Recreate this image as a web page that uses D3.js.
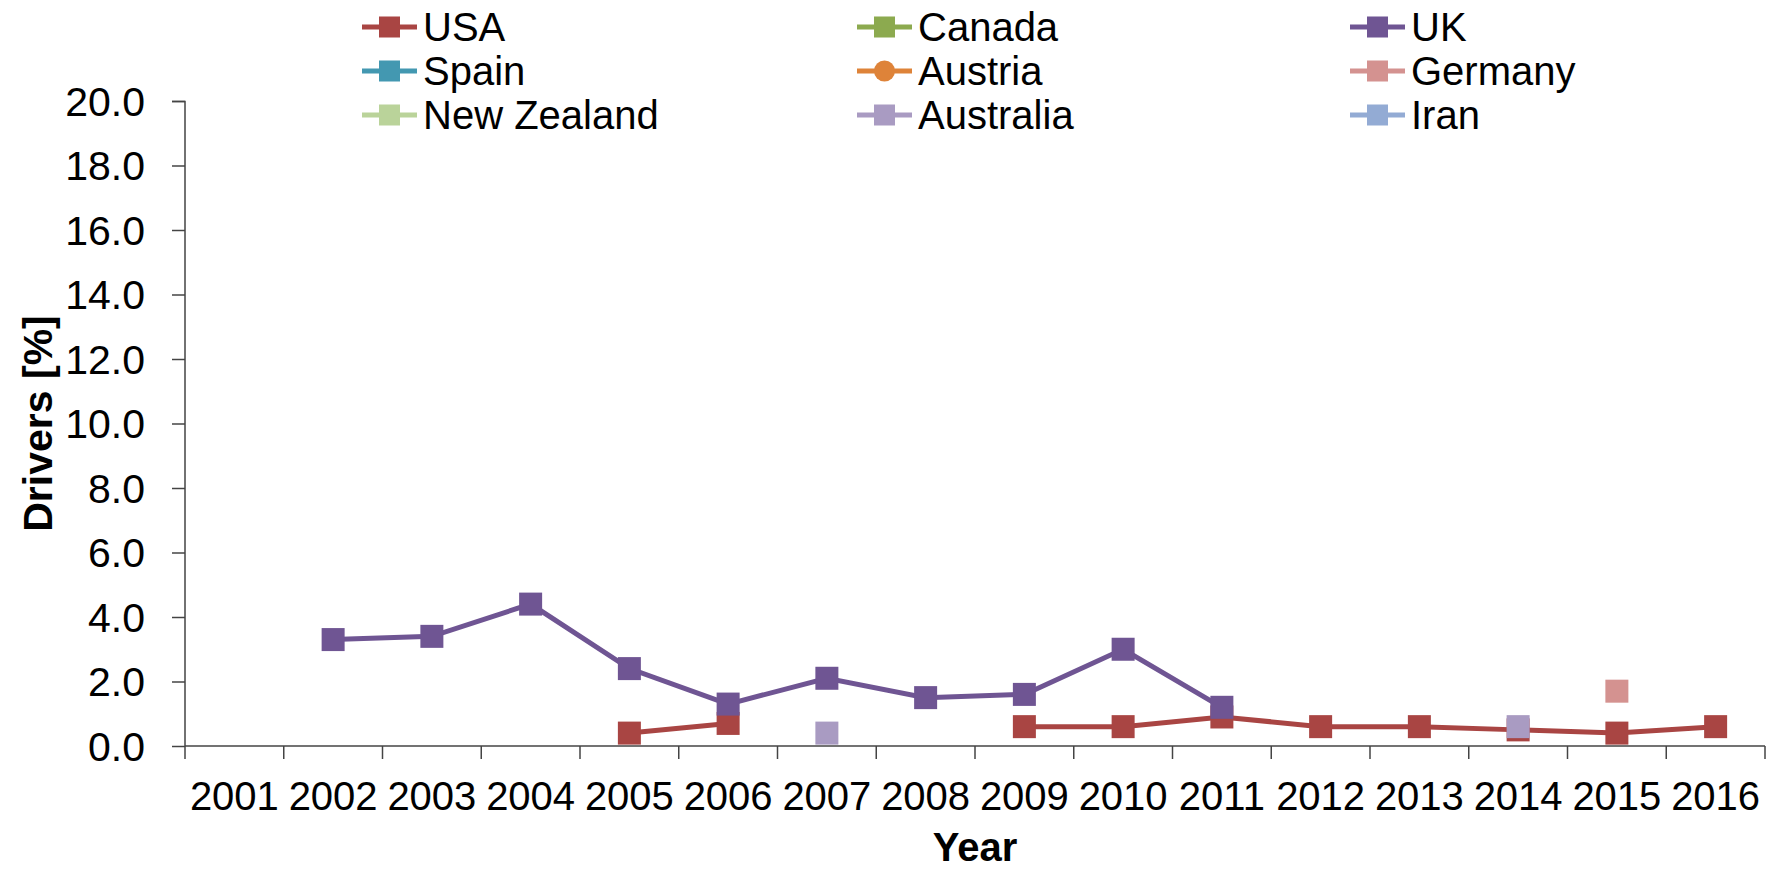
<!DOCTYPE html>
<html>
<head>
<meta charset="utf-8">
<script src="https://cdn.jsdelivr.net/npm/d3@7"></script>
<style>
  body { margin: 0; background: #fff; }
  text { font-family: "Liberation Sans", Arial, sans-serif; fill: #000; }
  .axis-title { font-weight: bold; }
</style>
</head>
<body>
<div id="chart"></div>
<script>
/*
* Drivers per year line chart
*/

let svgWidth = 1783;
let svgHeight = 871;

let margin = { top: 101, right: 18, bottom: 125, left: 185 };

// categories
let years = ['2001', '2002', '2003', '2004', '2005', '2006', '2007', '2008',
  '2009', '2010', '2011', '2012', '2013', '2014', '2015', '2016'];

// series values, one per year (null = no data)
let usa = [null, null, null, null, 0.4, 0.7, null, null, 0.6, 0.6, 0.9, 0.6, 0.6, 0.5, 0.4, 0.6];
let canada = [null, null, null, null, null, null, null, null, null, null, null, null, null, null, null, null];
let uk = [null, 3.3, 3.4, 4.4, 2.4, 1.3, 2.1, 1.5, 1.6, 3.0, 1.2, null, null, null, null, null];
let spain = [null, null, null, null, null, null, null, null, null, null, null, null, null, null, null, null];
let austria = [null, null, null, null, null, null, null, null, null, null, null, null, null, null, null, null];
let germany = [null, null, null, null, null, null, null, null, null, null, null, null, null, null, 1.7, null];
let newZealand = [null, null, null, null, null, null, null, null, null, null, null, null, null, null, null, null];
let australia = [null, null, null, null, null, null, 0.4, null, null, null, null, null, null, 0.6, null, null];
let iran = [null, null, null, null, null, null, null, null, null, null, null, null, null, null, null, null];

// y axis ticks
let yTicks = [0, 2, 4, 6, 8, 10, 12, 14, 16, 18, 20];

let SERIES = [
  { name: 'USA', values: usa, color: '#A94543', marker: 'square' },
  { name: 'Canada', values: canada, color: '#8CAA4F', marker: 'square' },
  { name: 'UK', values: uk, color: '#6F5593', marker: 'square' },
  { name: 'Spain', values: spain, color: '#4398B1', marker: 'square' },
  { name: 'Austria', values: austria, color: '#DE8339', marker: 'circle' },
  { name: 'Germany', values: germany, color: '#D49290', marker: 'square' },
  { name: 'New Zealand', values: newZealand, color: '#BAD39A', marker: 'square' },
  { name: 'Australia', values: australia, color: '#A99BC2', marker: 'square' },
  { name: 'Iran', values: iran, color: '#93ABD4', marker: 'square' }
];

let svg = d3.select('#chart').append('svg')
  .attr('width', svgWidth)
  .attr('height', svgHeight);

let plotW = svgWidth - margin.left - margin.right;
let plotH = svgHeight - margin.top - margin.bottom;

let x = d3.scaleBand().domain(years).range([0, plotW]);
let y = d3.scaleLinear().domain([0, 20]).range([plotH, 0]);

let g = svg.append('g').attr('transform', 'translate(' + margin.left + ',' + margin.top + ')');

// y axis
let yAxis = g.append('g')
  .call(d3.axisLeft(y).tickValues(yTicks).tickSize(13).tickPadding(27).tickFormat(d3.format('.1f')));
yAxis.select('.domain').attr('stroke', '#444').attr('stroke-width', 1.5).attr('d', 'M-13,0.5H0V' + plotH);
yAxis.selectAll('.tick line').attr('stroke', '#444').attr('stroke-width', 1.5);
yAxis.selectAll('.tick text')
  .style('font-size', '41px')
  .attr('dy', '0.35em');

// x axis: ticks on band edges, labels centred
let xAxis = g.append('g').attr('transform', 'translate(0,' + plotH + ')');
xAxis.append('line')
  .attr('x1', 0).attr('x2', plotW)
  .attr('stroke', '#444').attr('stroke-width', 1.5);
let edges = years.map(d => x(d)).concat([plotW]);
xAxis.selectAll('.xtick').data(edges).enter().append('line')
  .attr('class', 'xtick')
  .attr('x1', d => d).attr('x2', d => d)
  .attr('y1', 0).attr('y2', 13)
  .attr('stroke', '#444').attr('stroke-width', 1.5);
xAxis.selectAll('.xlabel').data(years).enter().append('text')
  .attr('class', 'xlabel')
  .attr('x', d => x(d) + x.bandwidth() / 2)
  .attr('y', 64)
  .style('font-size', '40px')
  .style('text-anchor', 'middle')
  .text(d => d);

// axis titles
svg.append('text')
  .attr('class', 'axis-title')
  .attr('transform', 'translate(52,' + (margin.top + plotH / 2) + ') rotate(-90)')
  .style('font-size', '41px')
  .style('text-anchor', 'middle')
  .text('Drivers [%]');

svg.append('text')
  .attr('class', 'axis-title')
  .attr('x', margin.left + plotW / 2)
  .attr('y', 861)
  .style('font-size', '40px')
  .style('text-anchor', 'middle')
  .text('Year');

// lines and markers
let line = d3.line()
  .defined(d => d != null)
  .x((d, i) => x(years[i]) + x.bandwidth() / 2)
  .y(d => y(d));

let markerSize = 23;

SERIES.forEach(function (s) {
  let sg = g.append('g').attr('class', 'series');
  sg.append('path')
    .attr('d', line(s.values))
    .attr('fill', 'none')
    .attr('stroke', s.color)
    .attr('stroke-width', 5);

  let pts = s.values.map((v, i) => ({ year: years[i], v: v })).filter(p => p.v != null);
  if (s.marker === 'circle') {
    sg.selectAll('circle').data(pts).enter().append('circle')
      .attr('cx', p => x(p.year) + x.bandwidth() / 2)
      .attr('cy', p => y(p.v))
      .attr('r', markerSize / 2)
      .attr('fill', s.color);
  } else {
    sg.selectAll('rect').data(pts).enter().append('rect')
      .attr('x', p => x(p.year) + x.bandwidth() / 2 - markerSize / 2)
      .attr('y', p => y(p.v) - markerSize / 2)
      .attr('width', markerSize)
      .attr('height', markerSize)
      .attr('fill', s.color);
  }
});

// legend, 3 columns
let legend = svg.append('g').attr('class', 'legend');
let colX = [362, 857, 1350];
let rowY = [27, 71, 115];

SERIES.forEach(function (s, i) {
  let lx = colX[i % 3];
  let ly = rowY[Math.floor(i / 3)];
  let item = legend.append('g').attr('transform', 'translate(' + lx + ',' + ly + ')');
  item.append('line')
    .attr('x1', 0).attr('x2', 55)
    .attr('stroke', s.color)
    .attr('stroke-width', 5);
  if (s.marker === 'circle') {
    item.append('circle')
      .attr('cx', 27.5).attr('r', 10.5)
      .attr('fill', s.color);
  } else {
    item.append('rect')
      .attr('x', 17).attr('y', -10.5)
      .attr('width', 21).attr('height', 21)
      .attr('fill', s.color);
  }
  item.append('text')
    .attr('x', 61)
    .attr('dy', '0.35em')
    .style('font-size', '40px')
    .text(s.name);
});
</script>
</body>
</html>
